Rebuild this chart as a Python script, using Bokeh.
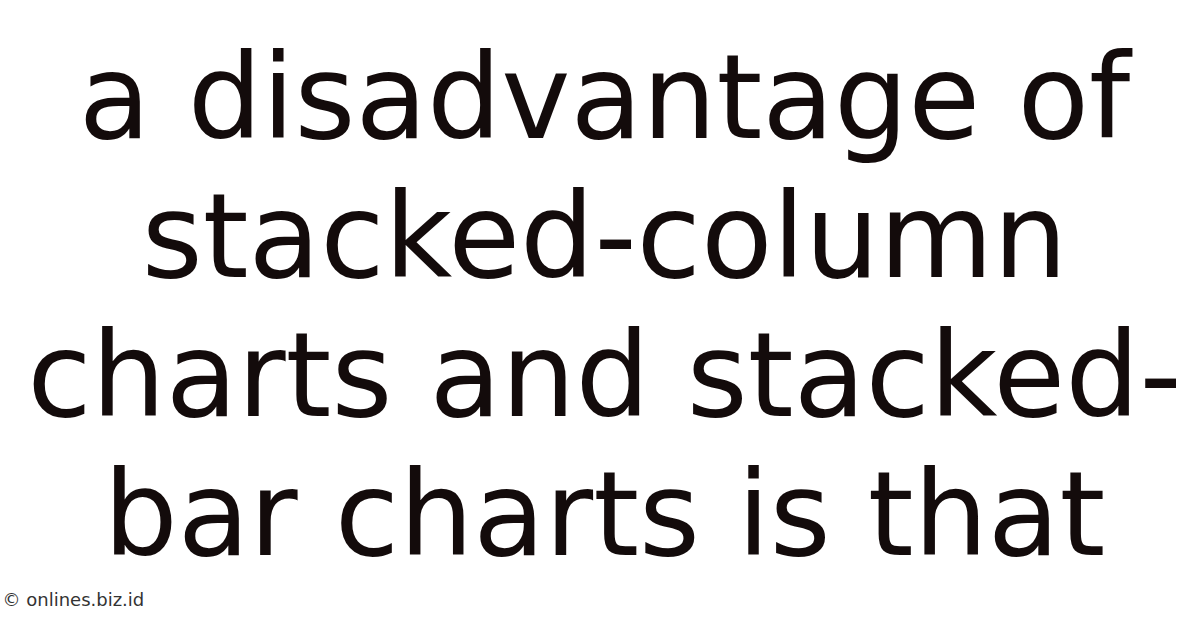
from bokeh.plotting import figure
from bokeh.models import Range1d, ColumnDataSource
from bokeh.core.properties import value
from bokeh.embed import file_html
from bokeh.resources import INLINE

lines = ["a disadvantage of", "stacked-column", "charts and stacked-", "bar charts is that"]
watermark = "\u00a9 onlines.biz.id"

W, H = 1184, 612
p = figure(width=W, height=H, output_backend="svg", toolbar_location=None,
           x_range=Range1d(0, W), y_range=Range1d(H, 0), min_border=0)
p.axis.visible = False
p.grid.visible = False
p.outline_line_color = None
p.background_fill_color = "white"
p.border_fill_color = "white"

first_baseline = 97
spacing = 139
src = ColumnDataSource(dict(
    x=[604] * len(lines),
    y=[first_baseline + i * spacing for i in range(len(lines))],
    t=lines,
))
p.text(x="x", y="y", text="t", source=src, text_align="center", text_baseline="alphabetic",
       text_font=value("DejaVu Sans"), text_font_size="117px", text_color="#130b0b")

p.text(x=[2], y=[599], text=[watermark], text_align="left", text_baseline="alphabetic",
       text_font=value("DejaVu Sans"), text_font_size="18px", text_color="#333333")

open("out.html", "w").write(file_html(p, INLINE))
